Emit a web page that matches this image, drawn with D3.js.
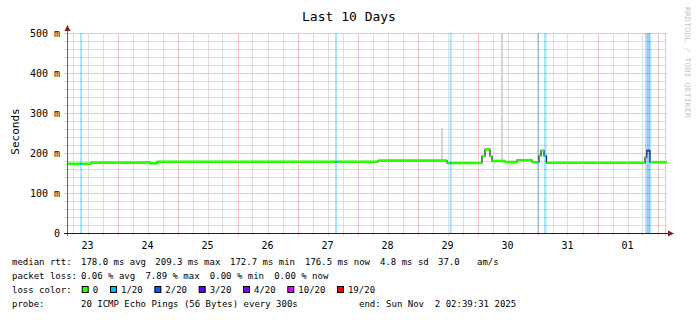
<!DOCTYPE html>
<html>
<head>
<meta charset="utf-8">
<script src="https://cdn.jsdelivr.net/npm/d3@7"></script>
<style>
  body { margin: 0; background: #fff; }
  svg { display: block; }
  text { font-family: "DejaVu Sans Mono", monospace; fill: #000; }
</style>
</head>
<body>
<script>
// hours since 2025-10-23 00:00, median rtt (ms), loss level index
var segStart = [3.8, 9.0, 9.8, 13.4, 35.0, 37.0, 39.8, 111.0, 111.8, 128.2, 155.8, 156.9, 157.7,
  169.8, 171.0, 173.0, 173.8, 179.0, 183.8, 189.8, 191.8, 192.6, 193.4, 194.6, 195.6,
  235.0, 235.7, 237.0, 237.4];
var segMedian = [173, 173, 173, 176, 176.5, 174, 178, 178, 178, 181, 175, 175, 175,
  192, 209, 192, 180, 177.5, 182, 177, 177, 193, 206, 193, 175.5,
  189, 206, 177, 177];
var segLoss = [0, 1, 0, 0, 0, 0, 0, 1, 0, 0, 0, 1, 0,
  0, 0, 0, 0, 0, 0, 0, 1, 0, 0, 1, 0,
  1, 2, 1, 0];
var endHour = 243.8;

// smoke spikes (hour, top ms)
var spikeHour = [153.4, 177.4];
var spikeTop = [262, 520];

var lossLabels = ["0", "1/20", "2/20", "3/20", "4/20", "10/20", "19/20"];
var lossColors = ["#26ff00", "#00b8ff", "#0059ff", "#5e00ff", "#7e00ff", "#dd00ff", "#ff0000"];

var dayLabels = ["23", "24", "25", "26", "27", "28", "29", "30", "31", "01"];
var yTicks = [0, 100, 200, 300, 400, 500];
var yTickLabels = ["0", "100 m", "200 m", "300 m", "400 m", "500 m"];

var rttStats = ["178.0 ms avg", "209.3 ms max", "172.7 ms min", "176.5 ms now", "4.8 ms sd", "37.0", "am/s"];
var lossStats = ["0.06 % avg", "7.89 % max", "0.00 % min", "0.00 % now"];
var probeText = "20 ICMP Echo Pings (56 Bytes) every 300s";
var endText = "end: Sun Nov  2 02:39:31 2025";

var width = 697, height = 321;
var t0 = Date.UTC(2025, 9, 23);
function hour(h) { return new Date(t0 + h * 36e5); }

var svg = d3.select('body').append('svg')
  .attr('width', width).attr('height', height);

var x = d3.scaleUtc().domain([hour(segStart[0]), hour(endHour)]).range([67, 667]);
var y = d3.scaleLinear().domain([0, 500]).range([233, 33]);

var segs = segStart.map(function (s, i) {
  return { t0: hour(s), t1: hour(i + 1 < segStart.length ? segStart[i + 1] : endHour),
    ms: segMedian[i], loss: segLoss[i] };
});

// grid
var g = svg.append('g').attr('shape-rendering', 'crispEdges');
var minorY = d3.range(0, 501, 20).filter(function (v) { return v % 100; });
g.selectAll('.my').data(minorY).enter().append('line')
  .attr('x1', 64).attr('x2', 667)
  .attr('y1', function (d) { return y(d) + 0.5; }).attr('y2', function (d) { return y(d) + 0.5; })
  .style('stroke', '#dedede');
var minorX = d3.utcHour.every(6).range(x.domain()[0], x.domain()[1]);
g.selectAll('.mx').data(minorX).enter().append('line')
  .attr('x1', function (d) { return Math.round(x(d)) + 0.5; })
  .attr('x2', function (d) { return Math.round(x(d)) + 0.5; })
  .attr('y1', 33).attr('y2', 236)
  .style('stroke', '#dedede');
g.selectAll('.My').data(yTicks.slice(1)).enter().append('line')
  .attr('x1', 64).attr('x2', 667)
  .attr('y1', function (d) { return y(d) + 0.5; }).attr('y2', function (d) { return y(d) + 0.5; })
  .style('stroke', '#f2c2c2');
var majorX = d3.utcDay.range(x.domain()[0], x.domain()[1]);
g.selectAll('.Mx').data(majorX).enter().append('line')
  .attr('x1', function (d) { return Math.round(x(d)) + 0.5; })
  .attr('x2', function (d) { return Math.round(x(d)) + 0.5; })
  .attr('y1', 33).attr('y2', 236)
  .style('stroke', '#f2c2c2');
g.append('line').attr('x1', 665.5).attr('x2', 665.5).attr('y1', 33).attr('y2', 236)
  .style('stroke', '#f2c2c2');

// loss bands
svg.append('g').selectAll('rect').data(segs.filter(function (d) { return d.loss > 0; }))
  .enter().append('rect')
  .attr('x', function (d) { return x(d.t0); })
  .attr('width', function (d) { return x(d.t1) - x(d.t0); })
  .attr('y', y(500)).attr('height', y(0) - y(500))
  .style('fill', function (d) { return lossColors[d.loss]; })
  .style('opacity', 0.35);

// smoke
svg.append('g').selectAll('rect').data(segs).enter().append('rect')
  .attr('x', function (d) { return x(d.t0); })
  .attr('width', function (d) { return x(d.t1) - x(d.t0); })
  .attr('y', function (d) { return y(d.ms + 4); })
  .attr('height', function (d) { return y(d.ms - 3) - y(d.ms + 4); })
  .style('fill', '#efefef');
svg.append('g').attr('shape-rendering', 'crispEdges')
  .selectAll('rect').data(spikeHour).enter().append('rect')
  .attr('x', function (d) { return Math.round(x(hour(d))); })
  .attr('width', 1.5)
  .attr('y', function (d, i) { return y(Math.min(spikeTop[i], 500)); })
  .attr('height', function (d, i) { return y(178) - y(Math.min(spikeTop[i], 500)); })
  .style('fill', '#d4d4d4');

// median: dark step line, coloured level segments on top
var pts = segs.map(function (d) { return [d.t0, d.ms]; });
pts.push([hour(endHour), segMedian[segMedian.length - 1]]);
svg.append('path')
  .attr('d', d3.line().curve(d3.curveStepAfter)
    .x(function (d) { return x(d[0]); }).y(function (d) { return y(d[1]); })(pts))
  .style('fill', 'none').style('stroke', '#202020').style('stroke-width', 1.2);
svg.append('g').selectAll('line').data(segs).enter().append('line')
  .attr('x1', function (d) { return x(d.t0); })
  .attr('x2', function (d) { return x(d.t1); })
  .attr('y1', function (d) { return y(d.ms); })
  .attr('y2', function (d) { return y(d.ms); })
  .style('stroke', function (d) { return lossColors[d.loss]; })
  .style('stroke-width', 2.6);

// axes
svg.append('line').attr('x1', 67.5).attr('x2', 67.5).attr('y1', 30).attr('y2', 236)
  .style('stroke', '#606060');
svg.append('line').attr('x1', 64).attr('x2', 670).attr('y1', 233.5).attr('y2', 233.5)
  .style('stroke', '#202020');
svg.append('path').attr('d', 'M64.5,31 L67.5,25 L70.5,31 Z').style('fill', '#802020');
svg.append('path').attr('d', 'M668,230.5 L674,233.5 L668,236.5 Z').style('fill', '#802020');

// axis labels
svg.append('g').selectAll('text').data(yTicks).enter().append('text')
  .attr('x', 60).attr('y', function (d) { return y(d) + 3.7; })
  .attr('text-anchor', 'end').attr('font-size', '10px')
  .text(function (d, i) { return yTickLabels[i]; });
var noons = majorX.map(function (d) { return d3.utcHour.offset(d, -12); });
svg.append('g').selectAll('text').data(dayLabels).enter().append('text')
  .attr('x', function (d, i) { return x(noons[i]); }).attr('y', 248.5)
  .attr('text-anchor', 'middle').attr('font-size', '10px')
  .text(function (d) { return d; });

svg.append('text').attr('transform', 'translate(19,131.5) rotate(-90)')
  .attr('text-anchor', 'middle').attr('font-size', '11px').text('Seconds');
svg.append('text').attr('x', 349).attr('y', 21).attr('text-anchor', 'middle')
  .attr('font-size', '13px').text('Last 10 Days');
svg.append('text').attr('transform', 'translate(685,7) rotate(90)')
  .attr('font-size', '7.5px').attr('textLength', 111).attr('lengthAdjust', 'spacingAndGlyphs')
  .style('fill', '#c8c8c8').text('RRDTOOL / TOBI OETIKER');

// legend
var lg = svg.append('g').attr('font-size', '9px');
lg.append('text').attr('x', 12).attr('y', 265).text('median rtt:');
var rttX = [81, 155.3, 230, 305, 380, 438, 477];
lg.selectAll('.r').data(rttStats).enter().append('text')
  .attr('x', function (d, i) { return rttX[i]; }).attr('y', 265).text(function (d) { return d; });
lg.append('text').attr('x', 12).attr('y', 279).text('packet loss:');
lg.selectAll('.l').data(lossStats).enter().append('text')
  .attr('x', function (d, i) { return 81 + i * 64.4; }).attr('y', 279).text(function (d) { return d; });
lg.append('text').attr('x', 12).attr('y', 293).text('loss color:');
var bx = 81.7, boxX = [];
lossLabels.forEach(function (l) { boxX.push(bx); bx += 11 + l.length * 5.33 + 12; });
lg.selectAll('rect').data(lossColors).enter().append('rect')
  .attr('x', function (d, i) { return boxX[i] + 0.5; }).attr('y', 286.5)
  .attr('width', 6).attr('height', 6)
  .style('fill', function (d) { return d; }).style('stroke', '#000').style('stroke-width', 1);
lg.selectAll('.lt').data(lossLabels).enter().append('text')
  .attr('x', function (d, i) { return boxX[i] + 11; }).attr('y', 293).text(function (d) { return d; });
lg.append('text').attr('x', 12).attr('y', 307).text('probe:');
lg.append('text').attr('x', 81).attr('y', 307).text(probeText);
lg.append('text').attr('x', 359).attr('y', 307).text(endText).style('white-space', 'pre');
</script>
</body>
</html>
